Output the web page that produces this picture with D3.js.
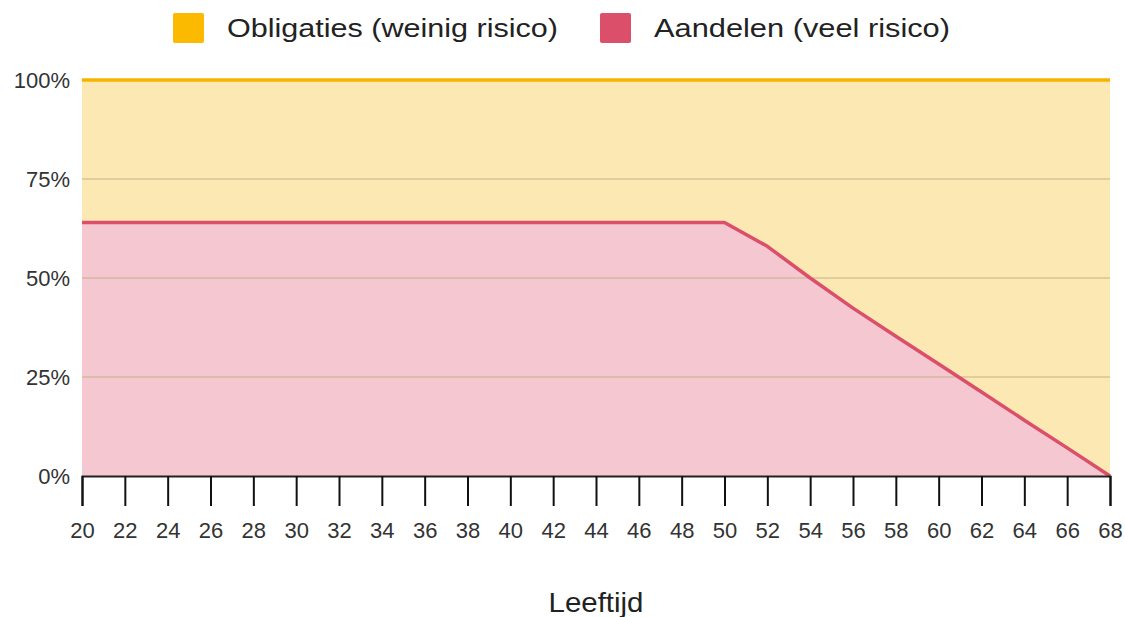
<!DOCTYPE html>
<html>
<head>
<meta charset="utf-8">
<script src="https://cdn.jsdelivr.net/npm/d3@7"></script>
<style>
  body { margin: 0; background: #fff; font-family: "Liberation Sans", Arial, sans-serif; }
</style>
</head>
<body>
<div class="chart-container"></div>
<script>
// Ages (x axis) and share of stocks per age
const ages = [20, 22, 24, 26, 28, 30, 32, 34, 36, 38, 40, 42, 44, 46, 48, 50, 52, 54, 56, 58, 60, 62, 64, 66, 68];
const aandelen = [0.64, 0.64, 0.64, 0.64, 0.64, 0.64, 0.64, 0.64, 0.64, 0.64, 0.64, 0.64, 0.64, 0.64, 0.64, 0.64,
                  0.58, 0.50, 0.424, 0.353, 0.283, 0.212, 0.141, 0.071, 0.0];
const obligaties = aandelen.map(a => 1 - a);
const seriesNames = ["Aandelen (veel risico)", "Obligaties (weinig risico)"];
const yTicks = [0, 0.25, 0.5, 0.75, 1];

const w = 1125, h = 617;
const margin = { left: 82, right: 15, top: 80, bottom: 141 };

const svg = d3.select(".chart-container").append("svg")
    .attr("width", w)
    .attr("height", h);

const xScale = d3.scaleLinear()
    .domain([d3.min(ages), d3.max(ages)])
    .range([margin.left, w - margin.right]);

const yScale = d3.scaleLinear()
    .domain([0, 1])
    .range([h - margin.bottom, margin.top]);

// Stack the two series
const rows = ages.map((a, i) => ({ age: a, aandelen: aandelen[i], obligaties: obligaties[i] }));
const stack = d3.stack().keys(["aandelen", "obligaties"]);
const layers = stack(rows);

const fills = ["#f4c7d1", "#fce8b2"];
const strokes = ["#db4f6b", "#f4b400"];

const area = d3.area()
    .x(d => xScale(d.data.age))
    .y0(d => yScale(d[0]))
    .y1(d => yScale(d[1]));

// areas
svg.selectAll("path.area")
    .data(layers)
    .enter()
    .append("path")
    .attr("class", "area")
    .attr("d", area)
    .attr("fill", (d, i) => fills[i]);

// gridlines
svg.append("g")
    .selectAll("line")
    .data(yTicks.filter(t => t > 0 && t < 1))
    .enter()
    .append("line")
    .attr("x1", margin.left)
    .attr("x2", w - margin.right)
    .attr("y1", d => yScale(d))
    .attr("y2", d => yScale(d))
    .attr("stroke", "#c8b48a")
    .attr("stroke-opacity", 0.55)
    .attr("stroke-width", 2);

// series lines (top of each layer)
const line = d3.line()
    .x(d => xScale(d.data.age))
    .y(d => yScale(d[1]));

svg.selectAll("path.line")
    .data(layers.slice().reverse())
    .enter()
    .append("path")
    .attr("class", "line")
    .attr("d", line)
    .attr("fill", "none")
    .attr("stroke", (d, i) => strokes[1 - i])
    .attr("stroke-width", 3.5)
    .attr("stroke-linejoin", "round");

// x axis
const xAxis = d3.axisBottom(xScale)
    .tickValues(ages)
    .tickSize(30)
    .tickPadding(16)
    .tickFormat(d3.format("d"));

const gx = svg.append("g")
    .attr("transform", `translate(0, ${h - margin.bottom})`)
    .call(xAxis);
gx.select(".domain").attr("stroke", "#222").attr("stroke-width", 2);
gx.selectAll(".tick line").attr("stroke", "#111").attr("stroke-width", 2);
gx.selectAll(".tick text")
    .attr("fill", "#333")
    .style("font-size", "22px")
    .style("font-family", "'Liberation Sans', Arial, sans-serif");

// y axis labels
const yAxis = d3.axisLeft(yScale)
    .tickValues(yTicks)
    .tickSize(0)
    .tickPadding(12)
    .tickFormat(d3.format(".0%"));

const gy = svg.append("g")
    .attr("transform", `translate(${margin.left}, 0)`)
    .call(yAxis);
gy.select(".domain").remove();
gy.selectAll(".tick text")
    .attr("fill", "#333")
    .style("font-size", "22px")
    .style("font-family", "'Liberation Sans', Arial, sans-serif");

// x axis label
svg.append("text")
    .attr("x", 596)
    .attr("y", 612)
    .attr("text-anchor", "middle")
    .attr("fill", "#222")
    .style("font-size", "28px")
    .attr("textLength", 95)
    .attr("lengthAdjust", "spacingAndGlyphs")
    .text("Leeftijd");

// legend
const legendItems = [
    { name: seriesNames[1], color: "#fbb900", x: 173, len: 331 },
    { name: seriesNames[0], color: "#db4f6b", x: 600, len: 296 }
];
const legend = svg.append("g").attr("id", "legend");
legendItems.forEach(it => {
    legend.append("rect")
        .attr("x", it.x)
        .attr("y", 13)
        .attr("width", 31)
        .attr("height", 30)
        .attr("rx", 2)
        .attr("fill", it.color);
    legend.append("text")
        .attr("x", it.x + 54)
        .attr("y", 37)
        .attr("fill", "#222")
        .style("font-size", "26px")
        .attr("textLength", it.len)
        .attr("lengthAdjust", "spacingAndGlyphs")
        .text(it.name);
});
</script>
</body>
</html>
